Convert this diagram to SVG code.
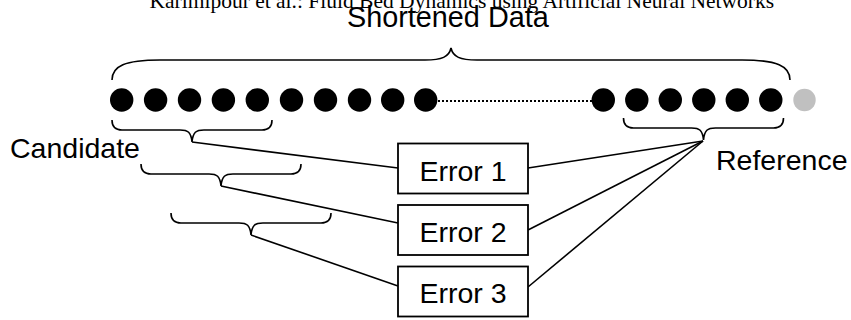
<svg xmlns="http://www.w3.org/2000/svg" width="851" height="320" viewBox="0 0 851 320">
<style>
.lbl{font-family:"Liberation Sans",Arial,sans-serif;font-size:28.5px;fill:#000}
.hdr{font-family:"Liberation Serif","Times New Roman",serif;font-size:21.5px;fill:#000}
.box{fill:#fff;stroke:#000;stroke-width:1.8}
.brace{fill:none;stroke:#000;stroke-width:1.6}
.conn{fill:none;stroke:#000;stroke-width:1.6}
.dot{fill:#000}
</style>
<defs>
<path id="brace" d="M-80,0 C-80,7 -77,10 -70,10 L-12,10 C-4,10 -1,12 0,22 C1,12 4,10 12,10 L70,10 C77,10 80,7 80,0"/>
</defs>
<rect width="851" height="320" fill="#fff"/>
<text class="hdr" x="149.5" y="8">Karimipour et al.: Fluid Bed Dynamics using Artificial Neural Networks</text>
<g id="title">
<text class="lbl" x="347" y="27" style="font-size:28.8px">Shortened Data</text>
<path class="brace" d="M112,80 C112,66 125,60 160,60 L425,60 C442,60 449,57 451,48 C453,57 460,60 477,60 L742,60 C777,60 790,66 790,80"/>
</g>
<g id="data">
<circle class="dot" cx="121.7" cy="100" r="11.7"/>
<circle class="dot" cx="155.6" cy="100" r="11.7"/>
<circle class="dot" cx="189.5" cy="100" r="11.7"/>
<circle class="dot" cx="223.4" cy="100" r="11.7"/>
<circle class="dot" cx="257.3" cy="100" r="11.7"/>
<circle class="dot" cx="291.5" cy="100" r="11.7"/>
<circle class="dot" cx="325.5" cy="100" r="11.7"/>
<circle class="dot" cx="359.5" cy="100" r="11.7"/>
<circle class="dot" cx="392.7" cy="100" r="11.7"/>
<circle class="dot" cx="425.7" cy="100" r="11.7"/>
<line x1="438" y1="101" x2="592" y2="101" stroke="#000" stroke-width="2" stroke-dasharray="2,2"/>
<circle class="dot" cx="603.3" cy="100" r="11.7"/>
<circle class="dot" cx="636.8" cy="100" r="11.7"/>
<circle class="dot" cx="670.3" cy="100" r="11.7"/>
<circle class="dot" cx="703.8" cy="100" r="11.7"/>
<circle class="dot" cx="737.3" cy="100" r="11.7"/>
<circle class="dot" cx="770.8" cy="100" r="11.7"/>
<circle cx="804.5" cy="100" r="11.2" fill="#c0c0c0"/>
</g>
<g id="candidate">
<text class="lbl" x="10" y="158">Candidate</text>
<use href="#brace" class="brace" transform="translate(192,120)"/>
<use href="#brace" class="brace" transform="translate(221,164)"/>
<use href="#brace" class="brace" transform="translate(251,213)"/>
</g>
<g id="reference">
<text class="lbl" x="716" y="170">Reference</text>
<use href="#brace" class="brace" transform="translate(703.5,118)"/>
</g>
<g id="connectors">
<line class="conn" x1="192" y1="142" x2="398" y2="168"/>
<line class="conn" x1="221" y1="186" x2="398" y2="223"/>
<line class="conn" x1="251" y1="235" x2="398" y2="286"/>
<line class="conn" x1="528" y1="168" x2="703" y2="141"/>
<line class="conn" x1="528" y1="230" x2="703" y2="141"/>
<line class="conn" x1="528" y1="287" x2="703" y2="141"/>
</g>
<g id="error1">
<rect class="box" x="398" y="143.5" width="130" height="50"/>
<text class="lbl" x="463" y="180.5" text-anchor="middle">Error 1</text>
</g>
<g id="error2">
<rect class="box" x="398" y="205" width="130" height="50"/>
<text class="lbl" x="463" y="241.5" text-anchor="middle">Error 2</text>
</g>
<g id="error3">
<rect class="box" x="398" y="266.5" width="130" height="50"/>
<text class="lbl" x="463" y="303" text-anchor="middle">Error 3</text>
</g>
</svg>
